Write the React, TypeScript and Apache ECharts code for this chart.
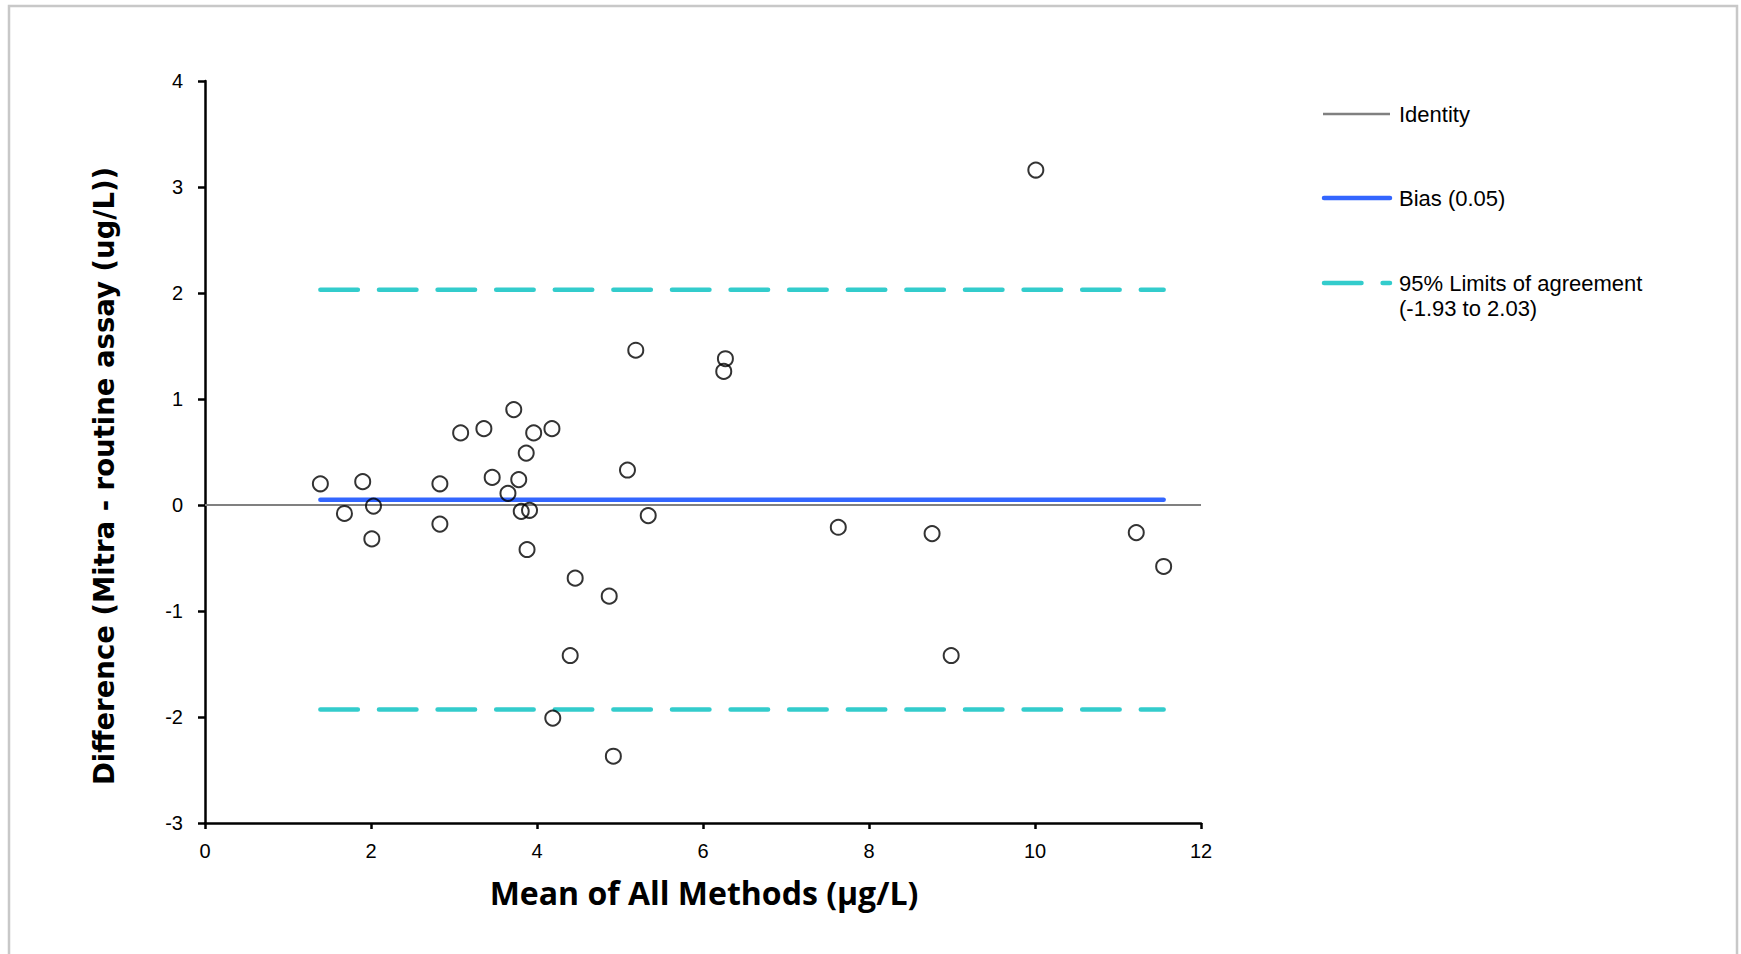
import React, { useEffect, useRef } from "react";
import * as echarts from "echarts";

// ---- data ----
const MEAN_X: number[] = [
  1.39, 1.68, 1.9, 2.03, 2.01, 2.83, 2.83, 3.08, 3.36, 3.46, 3.65, 3.72,
  3.78, 3.81, 3.91, 3.87, 3.88, 3.96, 4.18, 4.46, 4.4, 4.19, 4.87, 4.92,
  5.09, 5.19, 5.34, 6.25, 6.27, 7.63, 8.76, 8.99, 10.01, 11.22, 11.55,
];
const DIFF_Y: number[] = [
  0.2, -0.08, 0.22, -0.01, -0.32, 0.2, -0.18, 0.68, 0.72, 0.26, 0.11, 0.9,
  0.24, -0.06, -0.05, 0.49, -0.42, 0.68, 0.72, -0.69, -1.42, -2.01, -0.86,
  -2.37, 0.33, 1.46, -0.1, 1.26, 1.38, -0.21, -0.27, -1.42, 3.16, -0.26,
  -0.58,
];
const BIAS = 0.05;
const LOA_LOW = -1.93;
const LOA_HIGH = 2.03;
const X_RANGE = [0, 12];
const X_STEP = 2;
const Y_RANGE = [-3, 4];
const Y_STEP = 1;
const LEGEND_NAMES = [
  "Identity",
  `Bias (${BIAS.toFixed(2)})`,
  `95% Limits of agreement\n(${LOA_LOW.toFixed(2)} to ${LOA_HIGH.toFixed(2)})`,
];
const X_TITLE = "Mean of All Methods (µg/L)";
const Y_TITLE = "Difference (Mitra - routine assay (ug/L))";

const GRAY = "#808080";
const BLUE = "#3366ff";
const TEAL = "#33cccc";
const DASH = [37.5, 21.1];

export default function App() {
  const ref = useRef<HTMLDivElement>(null);

  useEffect(() => {
    if (!ref.current) return;
    const chart = echarts.init(ref.current, null, { renderer: "svg" });
    const xmin = Math.min(...MEAN_X);
    const xmax = Math.max(...MEAN_X);
    const points = MEAN_X.map((x, i) => [x, DIFF_Y[i]]);
    const tickFont = {
      fontFamily: "Liberation Sans",
      fontSize: 20,
      color: "#000",
    };
    const axisLineStyle = { color: "#000", width: 2.5 };

    chart.setOption({
      animation: false,
      backgroundColor: "#fff",
      grid: { left: 205, right: 540, top: 81, bottom: 131, containLabel: false },
      xAxis: {
        type: "value",
        min: X_RANGE[0],
        max: X_RANGE[1],
        interval: X_STEP,
        axisLine: { show: true, onZero: false, lineStyle: axisLineStyle },
        axisTick: { show: true, length: 6, lineStyle: axisLineStyle },
        axisLabel: { ...tickFont, margin: 18 },
        splitLine: { show: false },
      },
      yAxis: {
        type: "value",
        min: Y_RANGE[0],
        max: Y_RANGE[1],
        interval: Y_STEP,
        axisLine: { show: true, onZero: false, lineStyle: axisLineStyle },
        axisTick: { show: true, length: 7, lineStyle: axisLineStyle },
        axisLabel: { ...tickFont, margin: 22 },
        splitLine: { show: false },
      },
      series: [
        {
          name: LEGEND_NAMES[0],
          type: "line",
          data: [
            [X_RANGE[0], 0],
            [X_RANGE[1], 0],
          ],
          showSymbol: false,
          symbol: "none",
          lineStyle: { color: GRAY, width: 2 },
          z: 1,
        },
        {
          name: LEGEND_NAMES[1],
          type: "line",
          data: [
            [xmin, BIAS],
            [xmax, BIAS],
          ],
          symbol: "none",
          lineStyle: { color: BLUE, width: 4.5, cap: "round" },
          z: 2,
        },
        {
          name: LEGEND_NAMES[2],
          type: "line",
          data: [
            [xmin, LOA_HIGH],
            [xmax, LOA_HIGH],
          ],
          symbol: "none",
          lineStyle: { color: TEAL, width: 4.5, cap: "round", type: DASH },
          z: 2,
        },
        {
          name: LEGEND_NAMES[2],
          type: "line",
          data: [
            [xmin, LOA_LOW],
            [xmax, LOA_LOW],
          ],
          symbol: "none",
          lineStyle: { color: TEAL, width: 4.5, cap: "round", type: DASH },
          z: 2,
        },
        {
          name: "Differences",
          type: "scatter",
          data: points,
          symbol: "circle",
          symbolSize: 15,
          itemStyle: {
            color: "rgba(255,255,255,0)",
            borderColor: "#000",
            borderWidth: 2,
          },
          z: 10,
        },
      ],
      graphic: [
        {
          type: "rect",
          silent: true,
          shape: { x: 9, y: 6, width: 1728, height: 1000 },
          style: { fill: "none", stroke: "#c8c8c8", lineWidth: 2.5 },
        },
        {
          type: "text",
          x: 704,
          y: 892,
          style: {
            text: X_TITLE,
            fontFamily: "Open Sans",
            fontWeight: "bold",
            fontSize: 32,
            fill: "#000",
            align: "center",
            verticalAlign: "middle",
          },
        },
        {
          type: "text",
          x: 104,
          y: 476,
          rotation: Math.PI / 2,
          style: {
            text: Y_TITLE,
            fontFamily: "DejaVu Sans",
            fontWeight: "bold",
            fontSize: 27.5,
            fill: "#000",
            align: "center",
            verticalAlign: "middle",
          },
        },
        // legend
        {
          type: "line",
          shape: { x1: 1323, y1: 114, x2: 1390, y2: 114 },
          style: { stroke: GRAY, lineWidth: 2.5 },
        },
        {
          type: "text",
          x: 1399,
          y: 114,
          style: {
            text: LEGEND_NAMES[0],
            fontFamily: "Liberation Sans",
            fontSize: 22,
            fill: "#000",
            verticalAlign: "middle",
          },
        },
        {
          type: "line",
          shape: { x1: 1324, y1: 198, x2: 1390, y2: 198 },
          style: { stroke: BLUE, lineWidth: 4.5, lineCap: "round" },
        },
        {
          type: "text",
          x: 1399,
          y: 198,
          style: {
            text: LEGEND_NAMES[1],
            fontFamily: "Liberation Sans",
            fontSize: 22,
            fill: "#000",
            verticalAlign: "middle",
          },
        },
        {
          type: "line",
          shape: { x1: 1324, y1: 283, x2: 1390, y2: 283 },
          style: {
            stroke: TEAL,
            lineWidth: 4.5,
            lineCap: "round",
            lineDash: DASH,
          },
        },
        {
          type: "text",
          x: 1399,
          y: 270.5,
          style: {
            text: LEGEND_NAMES[2],
            fontFamily: "Liberation Sans",
            fontSize: 22,
            lineHeight: 25,
            fill: "#000",
            verticalAlign: "top",
          },
        },
      ],
    });

    return () => chart.dispose();
  }, []);

  return (
    <div
      ref={ref}
      style={{
        position: "absolute",
        left: 0,
        top: 0,
        width: 1741,
        height: 954,
        background: "#fff",
      }}
    />
  );
}
